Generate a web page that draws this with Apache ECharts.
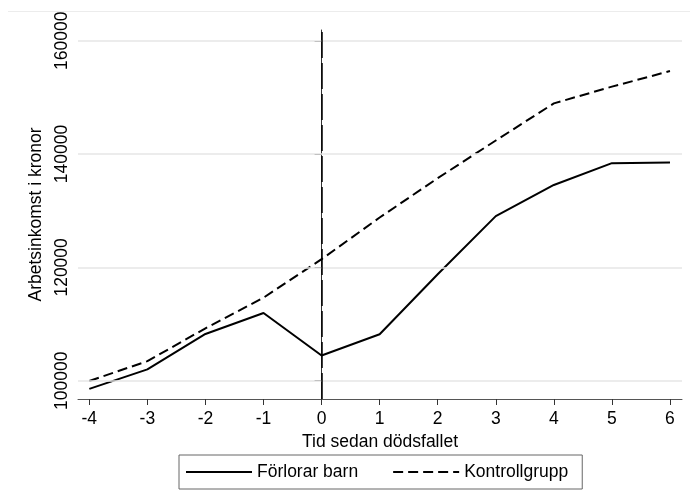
<!DOCTYPE html>
<html>
<head>
<meta charset="utf-8">
<script src="https://cdn.jsdelivr.net/npm/echarts@6/dist/echarts.min.js"></script>
<style>
  html, body { margin: 0; padding: 0; background: #fff; }
  #chart { width: 690px; height: 504px; }
</style>
</head>
<body>
<div id="chart"></div>
<script>
// år relativt dödsfallet
const years = [-4, -3, -2, -1, 0, 1, 2, 3, 4, 5, 6]
const forlorarBarn = [98550, 102000, 108250, 111950, 104450, 108200, 118800, 129050, 134550, 138400, 138500]
const kontrollgrupp = [99950, 103450, 109250, 114650, 121450, 128800, 135750, 142400, 148950, 151900, 154650]
const yTicks = [100000, 120000, 140000, 160000]
const xTicks = years

const font = '"Liberation Sans", Arial, Helvetica, sans-serif'
const toPairs = (vals) => years.map((x, i) => [x, vals[i]])

const option = {
  animation: false,
  backgroundColor: '#fff',
  textStyle: { fontFamily: font, color: '#000' },
  grid: {
    left: 78,
    right: 8,
    top: 30,
    bottom: 105,
    containLabel: false,
    outerBoundsMode: 'none'
  },
  xAxis: {
    type: 'value',
    min: -4.195,
    max: 6.207,
    name: 'Tid sedan dödsfallet',
    nameLocation: 'middle',
    nameGap: 29,
    nameTextStyle: { fontSize: 17.5, color: '#000', fontFamily: font },
    axisLine: { lineStyle: { color: '#555', width: 1 } },
    axisTick: { customValues: xTicks, length: 6, lineStyle: { color: '#333' } },
    axisLabel: {
      customValues: xTicks,
      margin: 11,
      fontSize: 17.5,
      color: '#000',
      fontFamily: font
    },
    splitLine: { show: false }
  },
  yAxis: {
    type: 'value',
    min: 96770,
    max: 161900,
    name: 'Arbetsinkomst i kronor',
    nameLocation: 'middle',
    nameGap: 25,
    nameTextStyle: { fontSize: 17.5, color: '#000', fontFamily: font },
    axisLine: { show: true, lineStyle: { color: '#333', width: 1 } },
    axisTick: { show: true, customValues: yTicks, length: 7, lineStyle: { color: '#555' } },
    axisLabel: {
      customValues: yTicks,
      formatter: (v) => String(v),
      rotate: 90,
      align: 'center',
      verticalAlign: 'bottom',
      margin: 7,
      fontSize: 17.5,
      color: '#000',
      fontFamily: font
    },
    splitLine: { show: false }
  },
  legend: {
    left: 179,
    top: 455,
    orient: 'horizontal',
    itemWidth: 66,
    itemHeight: 14,
    itemGap: 34,
    padding: [8, 14, 8, 6],
    borderColor: '#666',
    borderWidth: 1,
    itemStyle: { opacity: 0 },
    textStyle: { fontSize: 17.5, color: '#000', fontFamily: font },
    data: ['Förlorar barn', 'Kontrollgrupp']
  },
  graphic: [
    {
      type: 'line',
      shape: { x1: 8, y1: 11.5, x2: 690, y2: 11.5 },
      style: { stroke: '#ececec', lineWidth: 1 },
      silent: true
    }
  ],
  series: [
    {
      // rutnät och lodrät linje vid dödsfallet
      type: 'line',
      data: [],
      silent: true,
      markLine: {
        silent: true,
        symbol: 'none',
        label: { show: false },
        data: yTicks.map((v) => ({
          yAxis: v,
          lineStyle: { color: '#e6e6e6', width: 1.5, type: 'solid' }
        })).concat([
          { xAxis: 0, lineStyle: { color: '#000', width: 1.5, type: [26, 5] } }
        ])
      }
    },
    {
      name: 'Förlorar barn',
      type: 'line',
      data: toPairs(forlorarBarn),
      symbol: 'none',
      lineStyle: { color: '#000', width: 2, type: 'solid' },
      itemStyle: { color: '#000' }
    },
    {
      name: 'Kontrollgrupp',
      type: 'line',
      data: toPairs(kontrollgrupp),
      symbol: 'none',
      lineStyle: { color: '#000', width: 2, type: [10, 5] },
      itemStyle: { color: '#000' }
    }
  ]
}

const myChart = echarts.init(document.getElementById('chart'))
option && myChart.setOption(option)
</script>
</body>
</html>
